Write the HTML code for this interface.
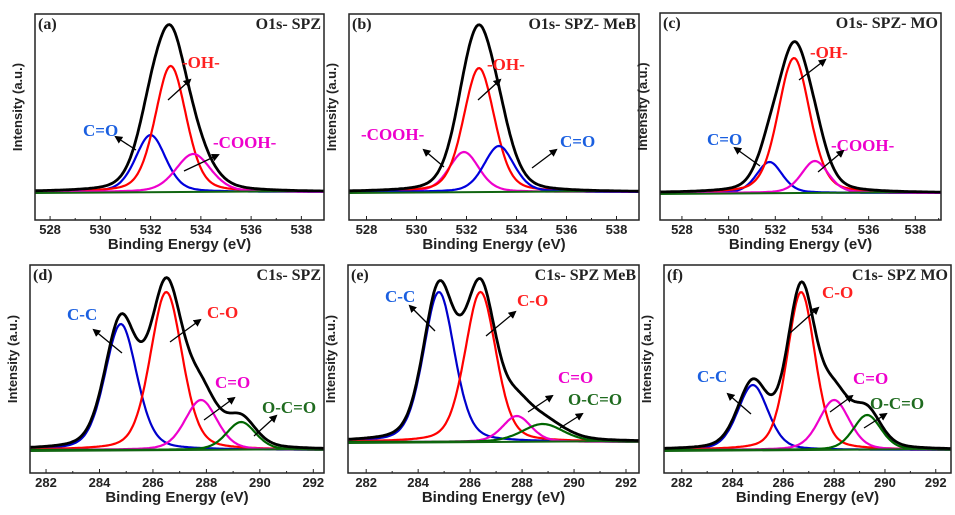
<!DOCTYPE html><html><head><meta charset="utf-8"><style>body{margin:0;background:#fff}svg{display:block}</style></head><body>
<svg id="s" width="955" height="515" xmlns="http://www.w3.org/2000/svg" font-family="Liberation Sans, sans-serif">
<defs><marker id="ar" markerWidth="8" markerHeight="8" refX="6" refY="4" orient="auto" markerUnits="userSpaceOnUse"><path d="M0,0 L8,4 L0,8 z" fill="#000"/></marker></defs>
</svg>
<script>
const S=document.getElementById('s');let h='';
function pv(x,c,s){const g=Math.exp(-(x-c)*(x-c)/(2*s*s));const l=1/(1+((x-c)/(1.18*s))**2);return 0.7*g+0.3*l;}
const P=[
{bx:35,by:14,bw:289,bh:206,x0:527.4,x1:538.9,t:[528,530,532,534,536,538],base:192,lab:'(a)',ttl:'O1s- SPZ',
 pk:[[532,57,.6,'#0000dd'],[532.8,126,.62,'#ff0000'],[533.7,38,.7,'#ee00cc']],
 an:[['C=O',83,136,'#1a5fe0',[136,150,116,137]],['-OH-',182,68,'#ff2020',[168,100,190,80]],['-COOH-',213,148,'#ee00cc',[184,171,218,155]]]},
{bx:349,by:14,bw:290,bh:206,x0:527.3,x1:538.9,t:[528,530,532,534,536,538],base:192,lab:'(b)',ttl:'O1s- SPZ- MeB',
 pk:[[531.9,40,.6,'#ee00cc'],[532.5,124,.62,'#ff0000'],[533.3,46,.6,'#0000dd']],
 an:[['-COOH-',361,140,'#ee00cc',[444,167,424,150]],['-OH-',487,70,'#ff2020',[478,100,500,80]],['C=O',560,147,'#1a5fe0',[532,168,556,150]]]},
{bx:660,by:13,bw:281,bh:207,x0:527.06,x1:539.1,t:[528,530,532,534,536,538],base:193,lab:'(c)',ttl:'O1s- SPZ- MO',
 pk:[[531.75,31,.55,'#0000dd'],[532.8,135,.68,'#ff0000'],[533.7,32,.58,'#ee00cc']],
 an:[['C=O',707,145,'#1a5fe0',[760,166,735,148]],['-OH-',810,58,'#ff2020',[799,80,825,60]],['-COOH-',831,151,'#ee00cc',[818,172,843,151]]]},
{bx:30,by:265,bw:294,bh:208,x0:281.4,x1:292.4,t:[282,284,286,288,290,292],base:450,lab:'(d)',ttl:'C1s- SPZ',
 pk:[[284.8,126,.6,'#0000cc'],[286.5,158,.6,'#ff0000'],[287.8,50,.6,'#ee00cc'],[289.3,28,.55,'#006600']],
 an:[['C-C',67,320,'#1a5fe0',[122,353,94,330]],['C-O',207,318,'#ff2020',[170,342,200,320]],['C=O',215,388,'#ee00cc',[204,420,234,398]],['O-C=O',262,413,'#1f6b1f',[254,436,276,416]]]},
{bx:348,by:265,bw:291,bh:208,x0:281.3,x1:292.5,t:[282,284,286,288,290,292],base:442,lab:'(e)',ttl:'C1s- SPZ MeB',
 pk:[[284.8,150,.6,'#0000cc'],[286.4,150,.6,'#ff0000'],[287.8,26,.55,'#ee00cc'],[288.8,18,.8,'#006600']],
 an:[['C-C',385,302,'#1a5fe0',[435,331,410,306]],['C-O',517,306,'#ff2020',[486,336,515,312]],['C=O',558,383,'#ee00cc',[528,412,552,396]],['O-C=O',568,405,'#1f6b1f',[560,428,582,414]]]},
{bx:664,by:265,bw:287,bh:208,x0:281.3,x1:292.6,t:[282,284,286,288,290,292],base:450,lab:'(f)',ttl:'C1s- SPZ MO',
 pk:[[284.8,65,.6,'#0000cc'],[286.7,158,.55,'#ff0000'],[288,50,.6,'#ee00cc'],[289.3,35,.55,'#006600']],
 an:[['C-C',697,382,'#1a5fe0',[751,414,728,394]],['C-O',822,298,'#ff2020',[790,333,818,308]],['C=O',853,384,'#ee00cc',[830,412,852,396]],['O-C=O',870,409,'#1f6b1f',[864,428,886,414]]]}
];
for(const p of P){
 const X=v=>p.bx+(v-p.x0)/(p.x1-p.x0)*p.bw;
 const N=200;let sum=[];
 for(const k of p.pk){let d='';for(let i=0;i<=N;i++){const v=p.x0+(p.x1-p.x0)*i/N;const y=k[1]*pv(v,k[0],k[2]);sum[i]=(sum[i]||0)+y;d+=(i?'L':'M')+X(v).toFixed(1)+','+(p.base-y).toFixed(1);}
  h+=`<path d="${d}" fill="none" stroke="${k[3]}" stroke-width="2.2"/>`;}
 h+=`<line x1="${p.bx}" y1="${p.base+1}" x2="${p.bx+p.bw}" y2="${p.base-1}" stroke="#116611" stroke-width="2"/>`;
 let d='';for(let i=0;i<=N;i++){const v=p.x0+(p.x1-p.x0)*i/N;d+=(i?'L':'M')+X(v).toFixed(1)+','+(p.base-sum[i]).toFixed(1);}
 h+=`<path d="${d}" fill="none" stroke="#000" stroke-width="2.8"/>`;
 h+=`<rect x="${p.bx}" y="${p.by}" width="${p.bw}" height="${p.bh}" fill="none" stroke="#222" stroke-width="1.5"/>`;
 for(const t of p.t){const x=X(t);h+=`<line x1="${x}" y1="${p.by+p.bh}" x2="${x}" y2="${p.by+p.bh-4}" stroke="#222"/><text x="${x}" y="${p.by+p.bh+14}" font-size="13" font-weight="bold" text-anchor="middle" fill="#222">${t}</text>`;
  const xm=X(t+1);if(xm<p.bx+p.bw)h+=`<line x1="${xm}" y1="${p.by+p.bh}" x2="${xm}" y2="${p.by+p.bh-2}" stroke="#222"/>`;}
 h+=`<text x="${p.bx+p.bw/2}" y="${p.by+p.bh+29}" font-size="15" font-weight="bold" text-anchor="middle" fill="#222">Binding Energy (eV)</text>`;
 h+=`<text transform="translate(${p.bx-13},${p.by+p.bh/2-10}) rotate(-90)" font-size="13" font-weight="bold" text-anchor="middle" fill="#222">Intensity (a.u.)</text>`;
 h+=`<text x="${p.bx+3}" y="${p.by+15}" font-family="Liberation Serif,serif" font-size="16" font-weight="bold" fill="#222">${p.lab}</text>`;
 h+=`<text x="${p.bx+p.bw-3}" y="${p.by+15}" font-family="Liberation Serif,serif" font-size="16" font-weight="bold" text-anchor="end" fill="#222">${p.ttl}</text>`;
 for(const a of p.an){h+=`<text x="${a[1]}" y="${a[2]}" font-family="Liberation Serif,serif" font-size="17" font-weight="bold" fill="${a[3]}">${a[0]}</text>`;
  const l=a[4];h+=`<line x1="${l[0]}" y1="${l[1]}" x2="${l[2]}" y2="${l[3]}" stroke="#000" stroke-width="1.3" marker-end="url(#ar)"/>`;}
}
S.insertAdjacentHTML('beforeend',h);
</script>
</body></html>
